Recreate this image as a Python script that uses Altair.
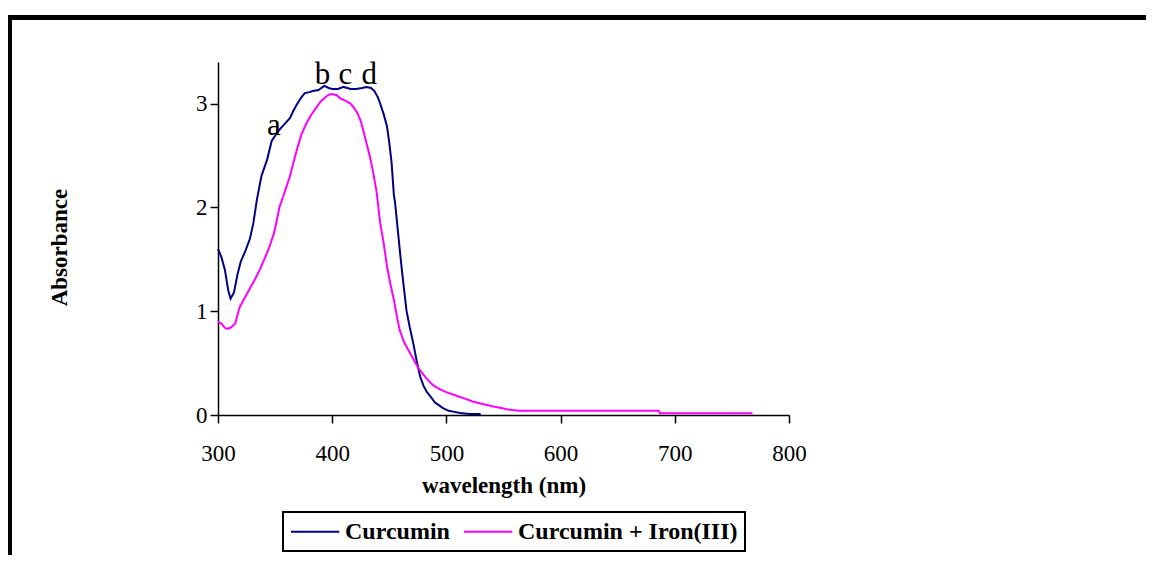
import altair as alt
import pandas as pd

# Curcumin spectrum (wavelength nm, absorbance)
cur_wl = [300, 303, 306, 309, 311, 314, 317, 320, 324, 328, 331, 334, 338, 343, 347, 350,
          354, 358, 363, 366, 369, 373, 376, 380, 383, 388, 393, 397, 400, 405, 410, 416,
          421, 426, 430, 434, 437, 440, 442, 445, 448, 450, 452, 454, 455, 458, 460, 462,
          465, 468, 471, 474, 477, 480, 483, 486, 490, 494, 497, 502, 507, 512, 520, 530]
cur_abs = [1.60, 1.52, 1.40, 1.20, 1.12, 1.18, 1.35, 1.48, 1.58, 1.70, 1.85, 2.07, 2.30, 2.46, 2.64, 2.69,
           2.75, 2.80, 2.86, 2.93, 2.99, 3.06, 3.10, 3.11, 3.12, 3.13, 3.17, 3.15, 3.14, 3.14, 3.16, 3.14,
           3.14, 3.15, 3.16, 3.15, 3.12, 3.06, 3.00, 2.90, 2.78, 2.62, 2.43, 2.12, 2.05, 1.72, 1.50, 1.30,
           1.01, 0.84, 0.69, 0.52, 0.37, 0.28, 0.22, 0.18, 0.12, 0.09, 0.065, 0.04, 0.03, 0.02, 0.01, 0.01]

# Curcumin + Iron(III) spectrum
fe_wl = [300, 303, 306, 308, 311, 315, 319, 323, 328, 333, 337, 341, 345, 349, 351, 354,
         357, 360, 363, 366, 370, 373, 377, 381, 386, 390, 395, 398, 401, 404, 407, 411,
         416, 419, 422, 425, 427, 430, 433, 436, 439, 442, 445, 448, 451, 454, 457, 459,
         463, 468, 472, 475, 477, 482, 488, 494, 500, 510, 518, 523, 530, 540, 547, 553,
         563, 686, 687, 768]
fe_abs = [0.90, 0.88, 0.84, 0.83, 0.84, 0.88, 1.04, 1.12, 1.22, 1.32, 1.41, 1.51, 1.62, 1.75, 1.85, 2.01,
          2.10, 2.20, 2.30, 2.43, 2.59, 2.70, 2.80, 2.88, 2.96, 3.02, 3.07, 3.09, 3.09, 3.08, 3.05, 3.03,
          3.00, 2.96, 2.91, 2.83, 2.75, 2.62, 2.49, 2.33, 2.14, 1.85, 1.66, 1.43, 1.26, 1.11, 0.93, 0.82,
          0.70, 0.60, 0.52, 0.46, 0.43, 0.36, 0.29, 0.25, 0.22, 0.18, 0.15, 0.13, 0.11, 0.085, 0.07, 0.055,
          0.04, 0.04, 0.016, 0.016]

series_names = ["Curcumin", "Curcumin + Iron(III)"]
series_colors = ["#000080", "#FF00FF"]

# peak annotations
ann_text = ["a", "b", "c", "d"]
ann_wl = [349, 391.5, 411.5, 432.5]
ann_abs = [2.70, 3.19, 3.19, 3.19]

x_ticks = [300, 400, 500, 600, 700, 800]
y_ticks = [0, 1, 2, 3]

FONT = "Liberation Serif"

df = pd.concat([
    pd.DataFrame({"wl": cur_wl, "A": cur_abs, "series": series_names[0], "order": range(len(cur_wl))}),
    pd.DataFrame({"wl": fe_wl, "A": fe_abs, "series": series_names[1], "order": range(len(fe_wl))}),
])
ann = pd.DataFrame({"t": ann_text, "wl": ann_wl, "A": ann_abs})

W, H = 571, 353

xs = alt.Scale(domain=[300, 800], nice=False, zero=False)
ys = alt.Scale(domain=[0, 3.4], nice=False)

lines = alt.Chart(df).mark_line(strokeWidth=2, interpolate="linear").encode(
    x=alt.X("wl:Q", scale=xs,
            axis=alt.Axis(values=x_ticks, title="wavelength (nm)", titleX=W / 2, titleY=77,
                          titleAlign="center", titleBaseline="alphabetic", labelPadding=19,
                          labelFlush=False, format="d")),
    y=alt.Y("A:Q", scale=ys,
            axis=alt.Axis(values=y_ticks, title="Absorbance", titleX=-152, titleY=185,
                          titleAlign="center", titleBaseline="alphabetic", titleAngle=270,
                          labelPadding=3, format="d", labelFlush=False)),
    color=alt.Color("series:N",
                    scale=alt.Scale(domain=series_names, range=series_colors),
                    legend=alt.Legend(title=None, orient="none", legendX=65, legendY=450,
                                      direction="horizontal", symbolType="M-1,0H3.2",
                                      symbolSize=529, symbolStrokeWidth=2,
                                      labelFont=FONT, labelFontSize=24, labelFontWeight="bold",
                                      labelColor="black", labelOffset=30, columnPadding=10,
                                      padding=7, strokeColor="black",
                                      fillColor="white", labelLimit=400)),
    order="order:Q",
)

labels = alt.Chart(ann).mark_text(font=FONT, fontSize=31, color="black",
                                  align="center", baseline="alphabetic").encode(
    x=alt.X("wl:Q", scale=xs), y=alt.Y("A:Q", scale=ys), text="t:N")

one = pd.DataFrame({"k": [0]})
top_border = alt.Chart(one).mark_rule(color="black", strokeWidth=5).encode(
    x=alt.value(-211), x2=alt.value(940), y=alt.value(-44.5))
left_border = alt.Chart(one).mark_rule(color="black", strokeWidth=5).encode(
    x=alt.value(-208.5), y=alt.value(-47), y2=alt.value(520))

chart = alt.layer(lines, labels, top_border, left_border).properties(
    width=W, height=H,
    autosize=alt.AutoSizeParams(type="none"),
    padding={"left": 210, "top": 54, "right": 357, "bottom": 140},
    background="white",
).configure_view(stroke=None).configure_axis(
    grid=False, domainColor="black", domainWidth=1.5, tickColor="black", tickWidth=1.5,
    tickSize=8, labelFont=FONT, labelFontSize=23, labelColor="black",
    titleFont=FONT, titleFontSize=23, titleFontWeight="bold", titleColor="black",
).configure_legend(strokeWidth=2)

chart.save("out.html", embed_options={"renderer": "svg", "actions": False})
